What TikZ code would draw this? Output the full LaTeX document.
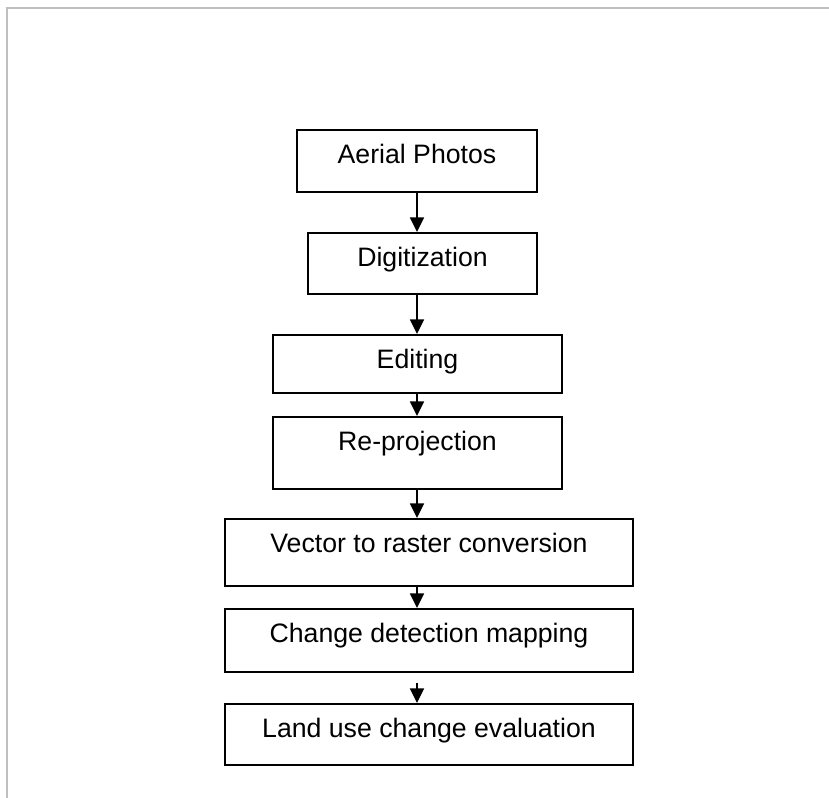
\documentclass[tikz,border=0pt]{standalone}
\usepackage{fontspec}
\setmainfont{Liberation Sans}
\usetikzlibrary{arrows.meta}

\begin{document}
\begin{tikzpicture}[x=0.75pt,y=-0.75pt,
  stepbox/.style={draw=black,line width=1.2pt,rectangle,inner sep=0pt,
    font=\fontsize{20pt}{22pt}\selectfont,anchor=north,
    text height=25.5pt},
  flow/.style={line width=1.2pt,-{Triangle[length=11pt,width=10.5pt]}},
  frameline/.style={draw=black!25,line width=1.2pt}]
  \useasboundingbox (0,0) rectangle (829,798);
  % page frame
  \draw[frameline] (829,8) -- (7,8) -- (7,798);

  % process steps (top-centre anchor, width and height in px)
  \node[stepbox,minimum width=240*0.75pt,text depth=28*0.75pt] (aerial) at (417,129) {Aerial Photos};
  \node[stepbox,minimum width=229*0.75pt,text depth=27*0.75pt] (digit) at (422.5,232) {Digitization};
  \node[stepbox,minimum width=289*0.75pt,text depth=24*0.75pt] (edit) at (417.5,334) {Editing};
  \node[stepbox,minimum width=289*0.75pt,text depth=38*0.75pt] (reproj) at (417.5,416) {Re-projection};
  \node[stepbox,minimum width=408*0.75pt,text depth=33*0.75pt] (vector) at (429,518) {Vector to raster conversion};
  \node[stepbox,minimum width=408*0.75pt,text depth=29*0.75pt] (change) at (429,608) {Change detection mapping};
  \node[stepbox,minimum width=408*0.75pt,text depth=27*0.75pt] (landuse) at (429,703) {Land use change evaluation};

  % vertical axis of the arrows and the free start of the last one
  \coordinate (axis) at (417,0);
  \coordinate (laststart) at (417,683);

  \draw[flow] (aerial.south -| axis) -- (digit.north -| axis);
  \draw[flow] (digit.south -| axis) -- (edit.north -| axis);
  \draw[flow] (edit.south -| axis) -- (reproj.north -| axis);
  \draw[flow] (reproj.south -| axis) -- (vector.north -| axis);
  \draw[flow] (vector.south -| axis) -- (change.north -| axis);
  \draw[flow] (laststart) -- (landuse.north -| axis);
\end{tikzpicture}
\end{document}
